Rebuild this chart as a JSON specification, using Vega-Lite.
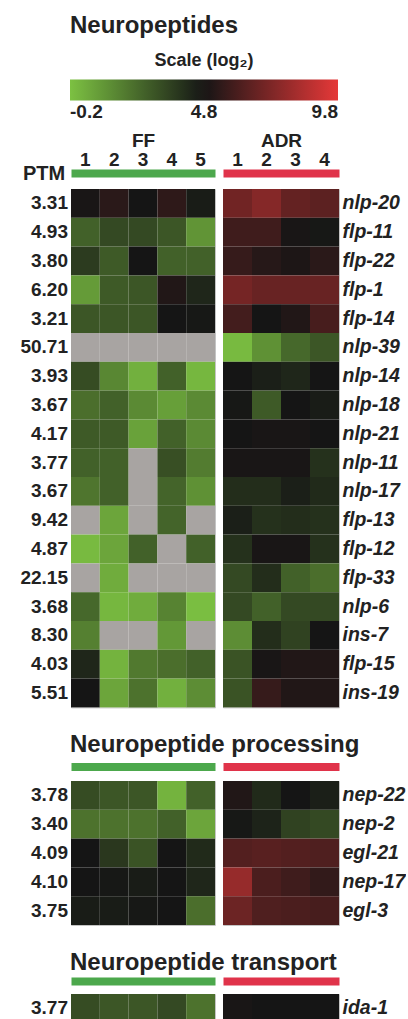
{
  "$schema": "https://vega.github.io/schema/vega-lite/v6.json",
  "background": "white",
  "padding": {"left": 18, "top": 14, "right": 0, "bottom": 0},
  "autosize": {"type": "pad"},
  "title": {"text": "Neuropeptides", "anchor": "start", "dx": 52, "fontSize": 24, "fontWeight": "bold", "color": "#222", "offset": 14, "font": "Liberation Sans"},
  "datasets": {
    "rows": [
      {"section": "np", "gene": "nlp-20", "ptm": "3.31", "FF1": 4.9, "FF2": 5.3, "FF3": 4.8, "FF4": 5.4, "FF5": 4.6, "ADR1": 7.0, "ADR2": 7.5, "ADR3": 6.7, "ADR4": 6.5},
      {"section": "np", "gene": "flp-11", "ptm": "4.93", "FF1": 2.6, "FF2": 3.3, "FF3": 3.3, "FF4": 2.9, "FF5": 1.1, "ADR1": 5.8, "ADR2": 5.8, "ADR3": 4.9, "ADR4": 4.7},
      {"section": "np", "gene": "flp-22", "ptm": "3.80", "FF1": 3.7, "FF2": 2.8, "FF3": 4.8, "FF4": 2.6, "FF5": 2.6, "ADR1": 5.6, "ADR2": 5.2, "ADR3": 5.0, "ADR4": 5.3},
      {"section": "np", "gene": "flp-1", "ptm": "6.20", "FF1": 0.9, "FF2": 2.8, "FF3": 2.9, "FF4": 5.1, "FF5": 4.3, "ADR1": 7.1, "ADR2": 6.8, "ADR3": 6.8, "ADR4": 6.8},
      {"section": "np", "gene": "flp-14", "ptm": "3.21", "FF1": 2.9, "FF2": 2.9, "FF3": 2.9, "FF4": 4.8, "FF5": 4.7, "ADR1": 5.9, "ADR2": 4.8, "ADR3": 5.1, "ADR4": 6.0},
      {"section": "np", "gene": "nlp-39", "ptm": "50.71", "FF1": null, "FF2": null, "FF3": null, "FF4": null, "FF5": null, "ADR1": 0.0, "ADR2": 1.2, "ADR3": 2.4, "ADR4": 2.9},
      {"section": "np", "gene": "nlp-14", "ptm": "3.93", "FF1": 3.2, "FF2": 1.5, "FF3": 0.3, "FF4": 2.6, "FF5": 0.1, "ADR1": 4.8, "ADR2": 4.5, "ADR3": 4.3, "ADR4": 4.8},
      {"section": "np", "gene": "nlp-18", "ptm": "3.67", "FF1": 2.2, "FF2": 2.6, "FF3": 1.4, "FF4": 0.8, "FF5": 1.4, "ADR1": 4.7, "ADR2": 2.8, "ADR3": 4.8, "ADR4": 4.6},
      {"section": "np", "gene": "nlp-21", "ptm": "4.17", "FF1": 2.8, "FF2": 2.8, "FF3": 0.7, "FF4": 2.6, "FF5": 1.4, "ADR1": 4.8, "ADR2": 4.9, "ADR3": 4.9, "ADR4": 4.8},
      {"section": "np", "gene": "nlp-11", "ptm": "3.77", "FF1": 2.6, "FF2": 2.6, "FF3": null, "FF4": 3.1, "FF5": 1.8, "ADR1": 4.9, "ADR2": 4.9, "ADR3": 4.9, "ADR4": 4.0},
      {"section": "np", "gene": "nlp-17", "ptm": "3.67", "FF1": 2.0, "FF2": 2.6, "FF3": null, "FF4": 2.5, "FF5": 1.2, "ADR1": 4.1, "ADR2": 4.1, "ADR3": 4.5, "ADR4": 4.2},
      {"section": "np", "gene": "flp-13", "ptm": "9.42", "FF1": null, "FF2": 0.6, "FF3": null, "FF4": 2.5, "FF5": null, "ADR1": 4.5, "ADR2": 4.0, "ADR3": 4.1, "ADR4": 4.0},
      {"section": "np", "gene": "flp-12", "ptm": "4.87", "FF1": 0.0, "FF2": 0.6, "FF3": 2.6, "FF4": null, "FF5": 2.6, "ADR1": 4.0, "ADR2": 4.9, "ADR3": 4.9, "ADR4": 4.0},
      {"section": "np", "gene": "flp-33", "ptm": "22.15", "FF1": null, "FF2": 0.4, "FF3": null, "FF4": null, "FF5": null, "ADR1": 3.3, "ADR2": 4.1, "ADR3": 2.6, "ADR4": 2.2},
      {"section": "np", "gene": "nlp-6", "ptm": "3.68", "FF1": 2.4, "FF2": 0.1, "FF3": 0.4, "FF4": 1.6, "FF5": -0.1, "ADR1": 3.3, "ADR2": 2.6, "ADR3": 3.3, "ADR4": 3.3},
      {"section": "np", "gene": "ins-7", "ptm": "8.30", "FF1": 1.7, "FF2": null, "FF3": null, "FF4": 1.0, "FF5": null, "ADR1": 1.3, "ADR2": 4.1, "ADR3": 3.5, "ADR4": 4.8},
      {"section": "np", "gene": "flp-15", "ptm": "4.03", "FF1": 4.3, "FF2": 0.2, "FF3": 1.9, "FF4": 2.2, "FF5": 2.6, "ADR1": 3.0, "ADR2": 4.9, "ADR3": 5.1, "ADR4": 5.1},
      {"section": "np", "gene": "ins-19", "ptm": "5.51", "FF1": 4.8, "FF2": 0.6, "FF3": 2.1, "FF4": 0.3, "FF5": 1.3, "ADR1": 3.0, "ADR2": 5.6, "ADR3": 5.1, "ADR4": 5.1},
      {"section": "proc", "gene": "nep-22", "ptm": "3.78", "FF1": 3.2, "FF2": 2.9, "FF3": 2.9, "FF4": 0.2, "FF5": 2.6, "ADR1": 5.1, "ADR2": 4.2, "ADR3": 4.8, "ADR4": 4.5},
      {"section": "proc", "gene": "nep-2", "ptm": "3.40", "FF1": 2.1, "FF2": 2.1, "FF3": 2.1, "FF4": 2.6, "FF5": 0.6, "ADR1": 4.7, "ADR2": 4.4, "ADR3": 3.5, "ADR4": 3.3},
      {"section": "proc", "gene": "egl-21", "ptm": "4.09", "FF1": 4.8, "FF2": 3.8, "FF3": 3.0, "FF4": 4.8, "FF5": 4.2, "ADR1": 6.3, "ADR2": 6.4, "ADR3": 6.3, "ADR4": 6.2},
      {"section": "proc", "gene": "nep-17", "ptm": "4.10", "FF1": 4.8, "FF2": 4.7, "FF3": 4.6, "FF4": 4.8, "FF5": 4.3, "ADR1": 7.9, "ADR2": 6.1, "ADR3": 5.8, "ADR4": 5.5},
      {"section": "proc", "gene": "egl-3", "ptm": "3.75", "FF1": 4.6, "FF2": 4.6, "FF3": 4.7, "FF4": 4.8, "FF5": 2.2, "ADR1": 6.9, "ADR2": 6.2, "ADR3": 6.1, "ADR4": 6.0},
      {"section": "trans", "gene": "ida-1", "ptm": "3.77", "FF1": 3.2, "FF2": 2.9, "FF3": 2.9, "FF4": 3.3, "FF5": 2.1, "ADR1": 4.9, "ADR2": 4.8, "ADR3": 4.8, "ADR4": 4.8}
    ]
  },
  "spacing": 24,
  "vconcat": [
    {
      "spacing": 0,
      "hconcat": [
        {
          "width": 52, "height": 518.4,
          "view": {"stroke": null},
          "data": {"name": "rows"},
          "transform": [{"filter": "datum.section == 'np'"}],
          "mark": {"type": "text", "align": "right", "baseline": "middle", "dx": -2, "fontSize": 19, "fontWeight": "bold", "color": "#222"},
          "encoding": {
            "x": {"datum": "PTM", "type": "nominal", "bandPosition": 1, "scale": {"type": "band", "paddingInner": 0, "paddingOuter": 0},
                  "axis": {"orient": "top", "title": null, "labelAngle": 0, "labelFontSize": 20, "labelFontWeight": "bold", "labelBaseline": "middle", "labelPadding": 0, "offset": 16, "domain": false, "ticks": false}},
            "y": {"field": "gene", "type": "nominal", "sort": null, "axis": null},
            "text": {"field": "ptm"}
          }
        },
        {
          "spacing": 6,
          "hconcat": [
            {
              "width": 144, "height": 518.4,
              "data": {"name": "rows"},
              "transform": [{"filter": "datum.section == 'np'"}, {"fold": ["FF1", "FF2", "FF3", "FF4", "FF5"], "as": ["col", "v"]}],
              "mark": {"type": "rect", "invalid": "show"},
              "encoding": {
                "x": {"field": "col", "type": "nominal", "sort": null, "scale": {"paddingInner": 0, "paddingOuter": 0},
                      "axis": {"orient": "top", "title": "FF", "titleFontSize": 19, "titleFontWeight": "bold", "titlePadding": 0, "labelAngle": 0, "labelFontSize": 19, "labelFontWeight": "bold", "labelBaseline": "alphabetic", "labelPadding": 8, "labelExpr": "replace(datum.value, 'FF', '')", "domain": true, "domainColor": "#4ca84c", "domainWidth": 8, "offset": 16, "ticks": false}},
                "y": {"field": "gene", "type": "nominal", "sort": null, "axis": null, "scale": {"paddingInner": 0, "paddingOuter": 0}},
                "color": {"condition": {"test": "datum.v == null", "value": "#a8a4a2"}, "field": "v", "type": "quantitative",
                          "scale": {"type": "linear", "domain": [-0.2, 4.8, 9.8], "range": ["#7cc142", "#151515", "#e53838"], "interpolate": {"type": "rgb", "gamma": 1}},
                          "legend": {"title": "Scale (log₂)", "values": [-0.2, 4.8, 9.8], "labelExpr": "'' + datum.value"}}
              }
            },
            {
              "width": 116, "height": 518.4,
              "data": {"name": "rows"},
              "transform": [{"filter": "datum.section == 'np'"}, {"fold": ["ADR1", "ADR2", "ADR3", "ADR4"], "as": ["col", "v"]}],
              "mark": {"type": "rect", "invalid": "show"},
              "encoding": {
                "x": {"field": "col", "type": "nominal", "sort": null, "scale": {"paddingInner": 0, "paddingOuter": 0},
                      "axis": {"orient": "top", "title": "ADR", "titleFontSize": 19, "titleFontWeight": "bold", "titlePadding": 0, "labelAngle": 0, "labelFontSize": 19, "labelFontWeight": "bold", "labelBaseline": "alphabetic", "labelPadding": 8, "labelExpr": "replace(datum.value, 'ADR', '')", "domain": true, "domainColor": "#e0334a", "domainWidth": 8, "offset": 16, "ticks": false}},
                "y": {"field": "gene", "type": "nominal", "sort": null, "scale": {"paddingInner": 0, "paddingOuter": 0},
                      "axis": {"orient": "right", "title": null, "labelFontSize": 19.5, "labelFontWeight": "bold", "labelFontStyle": "italic", "labelPadding": 3, "domain": false, "ticks": false}},
                "color": {"condition": {"test": "datum.v == null", "value": "#a8a4a2"}, "field": "v", "type": "quantitative",
                          "scale": {"type": "linear", "domain": [-0.2, 4.8, 9.8], "range": ["#7cc142", "#151515", "#e53838"], "interpolate": {"type": "rgb", "gamma": 1}},
                          "legend": {"title": "Scale (log₂)", "values": [-0.2, 4.8, 9.8], "labelExpr": "'' + datum.value"}}
              }
            }
          ]
        }
      ]
    },
    {
      "spacing": 0,
      "title": {"text": "Neuropeptide processing", "anchor": "start", "dx": 52, "fontSize": 24, "fontWeight": "bold", "color": "#222", "offset": 9.5, "font": "Liberation Sans"},
      "hconcat": [
        {
          "width": 52, "height": 144,
          "view": {"stroke": null},
          "data": {"name": "rows"},
          "transform": [{"filter": "datum.section == 'proc'"}],
          "mark": {"type": "text", "align": "right", "baseline": "middle", "dx": -2, "fontSize": 19, "fontWeight": "bold", "color": "#222"},
          "encoding": {
            "x": {"datum": "PTM", "type": "nominal", "bandPosition": 1, "scale": {"type": "band", "paddingInner": 0, "paddingOuter": 0}, "axis": null},
            "y": {"field": "gene", "type": "nominal", "sort": null, "axis": null},
            "text": {"field": "ptm"}
          }
        },
        {
          "spacing": 6,
          "hconcat": [
            {
              "width": 144, "height": 144,
              "data": {"name": "rows"},
              "transform": [{"filter": "datum.section == 'proc'"}, {"fold": ["FF1", "FF2", "FF3", "FF4", "FF5"], "as": ["col", "v"]}],
              "mark": {"type": "rect", "invalid": "show"},
              "encoding": {
                "x": {"field": "col", "type": "nominal", "sort": null, "scale": {"paddingInner": 0, "paddingOuter": 0},
                      "axis": {"orient": "top", "title": null, "labels": false, "domain": true, "domainColor": "#4ca84c", "domainWidth": 8, "offset": 14.5, "ticks": false}},
                "y": {"field": "gene", "type": "nominal", "sort": null, "axis": null, "scale": {"paddingInner": 0, "paddingOuter": 0}},
                "color": {"condition": {"test": "datum.v == null", "value": "#a8a4a2"}, "field": "v", "type": "quantitative",
                          "scale": {"type": "linear", "domain": [-0.2, 4.8, 9.8], "range": ["#7cc142", "#151515", "#e53838"], "interpolate": {"type": "rgb", "gamma": 1}},
                          "legend": {"title": "Scale (log₂)", "values": [-0.2, 4.8, 9.8], "labelExpr": "'' + datum.value"}}
              }
            },
            {
              "width": 116, "height": 144,
              "data": {"name": "rows"},
              "transform": [{"filter": "datum.section == 'proc'"}, {"fold": ["ADR1", "ADR2", "ADR3", "ADR4"], "as": ["col", "v"]}],
              "mark": {"type": "rect", "invalid": "show"},
              "encoding": {
                "x": {"field": "col", "type": "nominal", "sort": null, "scale": {"paddingInner": 0, "paddingOuter": 0},
                      "axis": {"orient": "top", "title": null, "labels": false, "domain": true, "domainColor": "#e0334a", "domainWidth": 8, "offset": 14.5, "ticks": false}},
                "y": {"field": "gene", "type": "nominal", "sort": null, "scale": {"paddingInner": 0, "paddingOuter": 0},
                      "axis": {"orient": "right", "title": null, "labelFontSize": 19.5, "labelFontWeight": "bold", "labelFontStyle": "italic", "labelPadding": 3, "domain": false, "ticks": false}},
                "color": {"condition": {"test": "datum.v == null", "value": "#a8a4a2"}, "field": "v", "type": "quantitative",
                          "scale": {"type": "linear", "domain": [-0.2, 4.8, 9.8], "range": ["#7cc142", "#151515", "#e53838"], "interpolate": {"type": "rgb", "gamma": 1}},
                          "legend": {"title": "Scale (log₂)", "values": [-0.2, 4.8, 9.8], "labelExpr": "'' + datum.value"}}
              }
            }
          ]
        }
      ]
    },
    {
      "spacing": 0,
      "title": {"text": "Neuropeptide transport", "anchor": "start", "dx": 52, "fontSize": 24, "fontWeight": "bold", "color": "#222", "offset": 6, "font": "Liberation Sans"},
      "hconcat": [
        {
          "width": 52, "height": 28.8,
          "view": {"stroke": null},
          "data": {"name": "rows"},
          "transform": [{"filter": "datum.section == 'trans'"}],
          "mark": {"type": "text", "align": "right", "baseline": "middle", "dx": -2, "fontSize": 19, "fontWeight": "bold", "color": "#222"},
          "encoding": {
            "x": {"datum": "PTM", "type": "nominal", "bandPosition": 1, "scale": {"type": "band", "paddingInner": 0, "paddingOuter": 0}, "axis": null},
            "y": {"field": "gene", "type": "nominal", "sort": null, "axis": null},
            "text": {"field": "ptm"}
          }
        },
        {
          "spacing": 6,
          "hconcat": [
            {
              "width": 144, "height": 28.8,
              "data": {"name": "rows"},
              "transform": [{"filter": "datum.section == 'trans'"}, {"fold": ["FF1", "FF2", "FF3", "FF4", "FF5"], "as": ["col", "v"]}],
              "mark": {"type": "rect", "invalid": "show"},
              "encoding": {
                "x": {"field": "col", "type": "nominal", "sort": null, "scale": {"paddingInner": 0, "paddingOuter": 0},
                      "axis": {"orient": "top", "title": null, "labels": false, "domain": true, "domainColor": "#4ca84c", "domainWidth": 8, "offset": 13, "ticks": false}},
                "y": {"field": "gene", "type": "nominal", "sort": null, "axis": null, "scale": {"paddingInner": 0, "paddingOuter": 0}},
                "color": {"condition": {"test": "datum.v == null", "value": "#a8a4a2"}, "field": "v", "type": "quantitative",
                          "scale": {"type": "linear", "domain": [-0.2, 4.8, 9.8], "range": ["#7cc142", "#151515", "#e53838"], "interpolate": {"type": "rgb", "gamma": 1}},
                          "legend": {"title": "Scale (log₂)", "values": [-0.2, 4.8, 9.8], "labelExpr": "'' + datum.value"}}
              }
            },
            {
              "width": 116, "height": 28.8,
              "data": {"name": "rows"},
              "transform": [{"filter": "datum.section == 'trans'"}, {"fold": ["ADR1", "ADR2", "ADR3", "ADR4"], "as": ["col", "v"]}],
              "mark": {"type": "rect", "invalid": "show"},
              "encoding": {
                "x": {"field": "col", "type": "nominal", "sort": null, "scale": {"paddingInner": 0, "paddingOuter": 0},
                      "axis": {"orient": "top", "title": null, "labels": false, "domain": true, "domainColor": "#e0334a", "domainWidth": 8, "offset": 13, "ticks": false}},
                "y": {"field": "gene", "type": "nominal", "sort": null, "scale": {"paddingInner": 0, "paddingOuter": 0},
                      "axis": {"orient": "right", "title": null, "labelFontSize": 19.5, "labelFontWeight": "bold", "labelFontStyle": "italic", "labelPadding": 3, "domain": false, "ticks": false}},
                "color": {"condition": {"test": "datum.v == null", "value": "#a8a4a2"}, "field": "v", "type": "quantitative",
                          "scale": {"type": "linear", "domain": [-0.2, 4.8, 9.8], "range": ["#7cc142", "#151515", "#e53838"], "interpolate": {"type": "rgb", "gamma": 1}},
                          "legend": {"title": "Scale (log₂)", "values": [-0.2, 4.8, 9.8], "labelExpr": "'' + datum.value"}}
              }
            }
          ]
        }
      ]
    }
  ],
  "config": {
    "font": "Liberation Sans",
    "view": {"stroke": "#c4c4c4", "strokeWidth": 1},
    "axis": {"grid": false, "tickSize": 0, "labelColor": "#222", "titleColor": "#222", "labelFont": "Liberation Sans", "titleFont": "Liberation Sans"},
    "legend": {"orient": "none", "legendX": 52, "legendY": -137, "direction": "horizontal", "gradientLength": 268, "gradientThickness": 21, "titleAnchor": "middle", "titleFontSize": 18, "titleFontWeight": "bold", "titleColor": "#222", "titlePadding": 9.5, "titleLimit": 400, "labelFontSize": 19, "labelFontWeight": "bold", "labelColor": "#222", "labelOffset": 9, "gradientStrokeWidth": 0}
  }
}
